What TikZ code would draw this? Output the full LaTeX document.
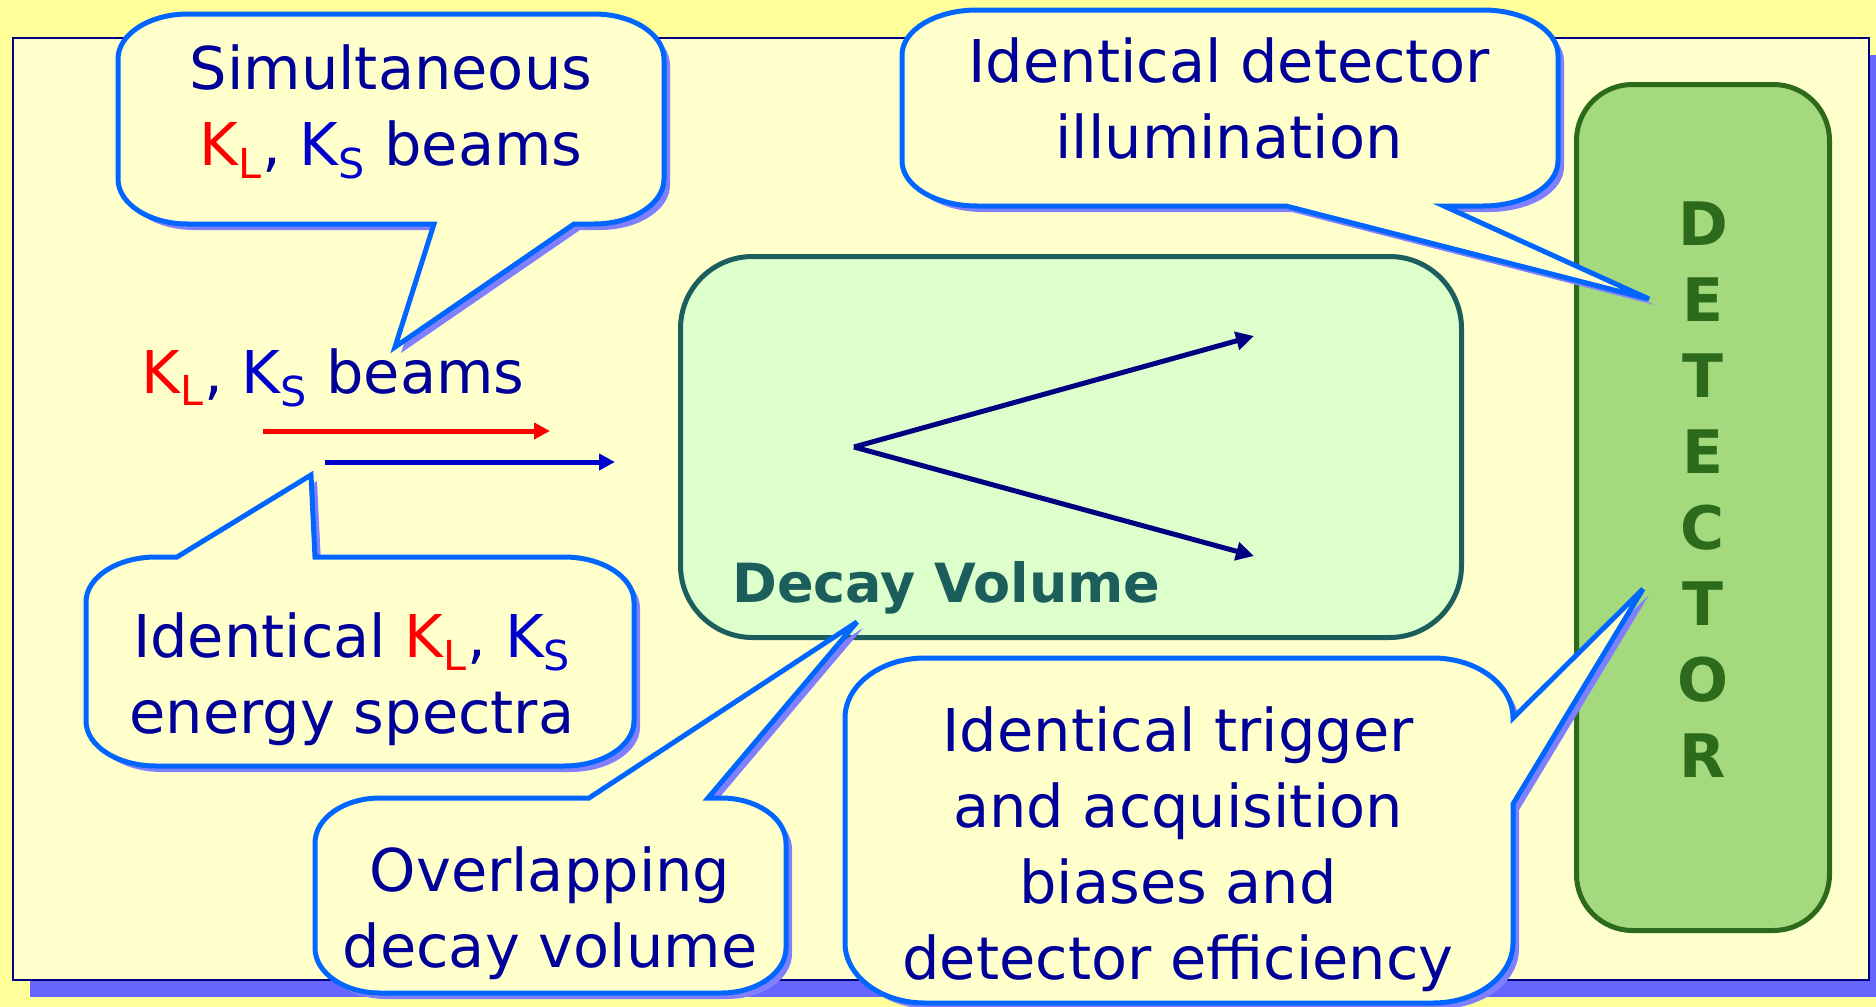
\documentclass[tikz,border=0pt]{standalone}
\usepackage{fontspec}
\setmainfont{DejaVu Sans}
\usetikzlibrary{arrows.meta}
\definecolor{bgyellow}{HTML}{FFFF99}
\definecolor{framefill}{HTML}{FFFFCC}
\definecolor{framenavy}{HTML}{000080}
\definecolor{frameshadow}{HTML}{6666FF}
\definecolor{calloutblue}{HTML}{0066FF}
\definecolor{calloutshadow}{HTML}{8080FF}
\definecolor{textnavy}{HTML}{000099}
\definecolor{kred}{HTML}{FF0000}
\definecolor{kblue}{HTML}{0000CC}
\definecolor{decayfill}{HTML}{DDFFCC}
\definecolor{decayteal}{HTML}{1B5E5B}
\definecolor{detfill}{HTML}{A5D97D}
\definecolor{detgreen}{HTML}{2B6B1B}
\definecolor{vnavy}{HTML}{000080}
\newcommand\KL{\textcolor{kred}{K\textsubscript{L}}}
\newcommand\KS{\textcolor{kblue}{K\textsubscript{S}}}
% L T R B rx ry top-insert right-insert bottom-insert
\newcommand\callpath[9]{({#1+#5},{#2}) #7 -- ({#3-#5},{#2}) .. controls ({#3-0.448*#5},{#2}) and ({#3},{#2+0.448*#6}) .. ({#3},{#2+#6}) #8 -- ({#3},{#4-#6}) .. controls ({#3},{#4-0.448*#6}) and ({#3-0.448*#5},{#4}) .. ({#3-#5},{#4}) #9 -- ({#1+#5},{#4}) .. controls ({#1+0.448*#5},{#4}) and ({#1},{#4-0.448*#6}) .. ({#1},{#4-#6}) -- ({#1},{#2+#6}) .. controls ({#1},{#2+0.448*#6}) and ({#1+0.448*#5},{#2}) .. ({#1+#5},{#2}) -- cycle}
\tikzset{
  cshadow/.style={fill=calloutshadow, shift={(6,6)}},
  callout/.style={fill=framefill, draw=calloutblue, line width=2.5pt, miter limit=6},
  ctext/.style={text=textnavy, align=center, inner sep=0pt, font=\fontsize{29.5}{38}\selectfont},
  decaybox/.style={draw=decayteal, fill=decayfill, line width=2.5pt, rounded corners=36pt, inner sep=0pt},
  detbox/.style={draw=detgreen, fill=detfill, line width=2.5pt, rounded corners=28pt, inner sep=0pt},
  beam/.style={line width=2.5pt, -{Triangle[length=8pt,width=8pt]}},
  decayarrow/.style={draw=vnavy, line width=2.5pt, -{Triangle[length=9pt,width=9pt]}}
}
\begin{document}
\begin{tikzpicture}[x=0.5pt,y=-0.5pt]
\useasboundingbox (0,0) rectangle (1876,1007);
\fill[bgyellow] (0,0) rectangle (1876,1007);
\fill[frameshadow] (30,55) rectangle (1876,997);
\filldraw[fill=framefill, draw=framenavy, line width=1pt] (13,38) rectangle (1869,980);

% decay volume
\node[decaybox, minimum width=390.5pt, minimum height=190.5pt] (decay) at (1071,447) {};
\node[anchor=base west, inner sep=0pt, text=decayteal, font=\bfseries\fontsize{27}{32}\selectfont] (decaylabel) at (732,602) {Decay Volume};
\coordinate (vertex) at (854,447);
\coordinate (upend) at (1254,336);
\coordinate (downend) at (1254,556);
\draw[decayarrow] (vertex) -- (upend);
\draw[decayarrow] (vertex) -- (downend);

% detector
\node[detbox, minimum width=126.5pt, minimum height=423pt] (detector) at (1703,507.5) {};
\node[align=center, inner sep=0pt, text=detgreen, font=\bfseries\fontsize{30}{38}\selectfont] (dettext) at (1703,490) {D\\E\\T\\E\\C\\T\\O\\R};

% beams
\node[ctext, anchor=base west] (beamlabel) at (141,393) {\KL, \KS{} beams};
\coordinate (redstart) at (263,431);
\coordinate (redend) at (550,431);
\coordinate (bluestart) at (325,462);
\coordinate (blueend) at (615,462);
\draw[beam, draw=kred, kred] (redstart) -- (redend);
\draw[beam, draw=kblue, kblue] (bluestart) -- (blueend);

% callout 1
\fill[cshadow] \callpath{118}{14}{664}{224}{70}{45}{}{}{-- (574,224) -- (395,347) -- (434,224)};
\draw[callout] \callpath{118}{14}{664}{224}{70}{45}{}{}{-- (574,224) -- (395,347) -- (434,224)};
\node[ctext] (c1) at (391,112) {Simultaneous\\\KL, \KS{} beams};

% callout 2
\fill[cshadow] \callpath{902}{10}{1558}{206}{75}{45}{}{}{-- (1444,206) -- (1649,299) -- (1286,206)};
\draw[callout] \callpath{902}{10}{1558}{206}{75}{45}{}{}{-- (1444,206) -- (1649,299) -- (1286,206)};
\node[ctext] (c2) at (1229,99) {Identical detector\\illumination};

% callout 3
\fill[cshadow] \callpath{86}{557}{634}{766}{70}{45}{-- (177,557) -- (311,475) -- (315,557)}{}{};
\draw[callout] \callpath{86}{557}{634}{766}{70}{45}{-- (177,557) -- (311,475) -- (315,557)}{}{};
\node[ctext] (c3) at (352,679) {Identical \KL, \KS\\energy spectra};

% callout 4
\fill[cshadow] \callpath{315}{798}{786}{993}{65}{45}{-- (589,798) -- (857,622) -- (708,798)}{}{};
\draw[callout] \callpath{315}{798}{786}{993}{65}{45}{-- (589,798) -- (857,622) -- (708,798)}{}{};
\node[ctext] (c4) at (550,913) {Overlapping\\decay volume};

% callout 5
\fill[cshadow] \callpath{845}{658}{1513}{1003}{80}{60}{}{-- (1643,589) -- (1513,804)}{};
\draw[callout] \callpath{845}{658}{1513}{1003}{80}{60}{}{-- (1643,589) -- (1513,804)}{};
\node[ctext] (c5) at (1178,849) {Identical trigger\\and acquisition\\biases and\\detector efficiency};
\end{tikzpicture}
\end{document}
